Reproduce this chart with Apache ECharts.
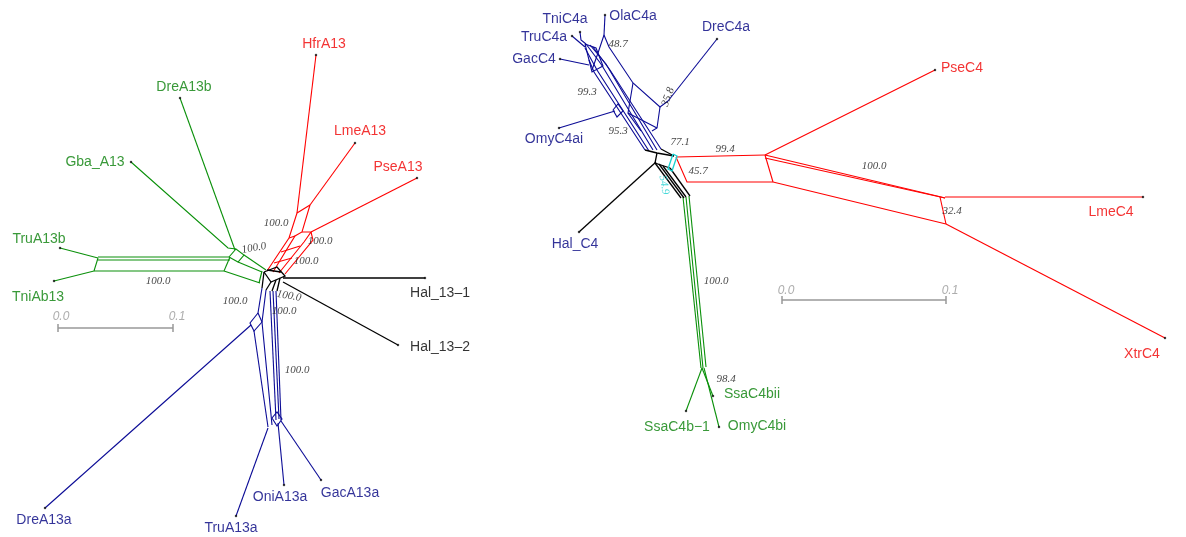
<!DOCTYPE html>
<html>
<head>
<meta charset="utf-8">
<script src="https://cdn.jsdelivr.net/npm/echarts@6/dist/echarts.min.js"></script>
<style>
  html, body { margin: 0; padding: 0; background: #fff; }
  #net { width: 1186px; height: 537px; }
</style>
</head>
<body>
<div id="net"></div>
<script>
// split network branches (x to the right, y downwards)
var leftGreen = [
    [[60, 248], [98, 258]],
    [[54, 281], [94, 271]],
    [[98, 258], [94, 271]],
    [[98, 257], [229, 257]],
    [[98, 260], [230, 260]],
    [[94, 271], [224, 271]],
    [[224, 271], [230, 257]],
    [[229, 257], [236, 249], [244, 255], [238, 262], [229, 257]],
    [[131, 162], [228, 248], [236, 249]],
    [[180, 98], [235, 250]],
    [[244, 255], [266, 270]],
    [[238, 262], [262, 272]],
    [[224, 271], [260, 283]],
    [[262, 271], [259, 283]]
];
var leftRed = [
    [[316, 55], [297, 213]],
    [[355, 143], [310, 205]],
    [[417, 178], [311, 232]],
    [[297, 213], [310, 205]],
    [[297, 213], [289, 238], [267, 271]],
    [[310, 205], [302, 232], [295, 236], [273, 272]],
    [[302, 232], [311, 232], [304, 242], [279, 273]],
    [[289, 238], [295, 236]],
    [[311, 232], [313, 240], [285, 274]],
    [[281, 252], [300, 246]],
    [[274, 263], [292, 258]]
];
var leftBlack = [
    [[264, 272], [277, 267], [285, 276], [271, 282], [264, 272]],
    [[267, 270], [281, 272]],
    [[271, 282], [266, 290]],
    [[276, 280], [272, 291]],
    [[280, 278], [277, 291]],
    [[264, 272], [262, 288]],
    [[283, 278], [425, 278]],
    [[283, 282], [398, 345]]
];
var leftBlue = [
    [[262, 288], [258, 313]],
    [[258, 313], [262, 322], [254, 331], [250, 323], [258, 313]],
    [[254, 331], [268, 427]],
    [[266, 290], [262, 322], [272, 425]],
    [[270, 291], [276, 420]],
    [[273, 291], [279, 419]],
    [[276, 291], [281, 420]],
    [[272, 418], [277, 412], [282, 419], [277, 426], [272, 418]],
    [[251, 325], [45, 508]],
    [[268, 428], [236, 516]],
    [[278, 423], [284, 485]],
    [[281, 421], [321, 480]]
];
var rightBlue = [
    [[605, 15], [604, 35]],
    [[604, 35], [598, 53], [592, 70]],
    [[604, 35], [609, 47], [633, 83], [660, 107], [668, 101]],
    [[668, 101], [717, 39]],
    [[633, 83], [628, 113], [641, 131]],
    [[660, 107], [657, 128], [652, 131]],
    [[628, 113], [657, 128]],
    [[580, 32], [581, 40], [586, 44]],
    [[572, 36], [585, 47]],
    [[560, 59], [589, 65]],
    [[585, 44], [596, 48], [603, 66], [592, 72], [585, 44]],
    [[586, 44], [601, 64], [653, 150]],
    [[590, 45], [606, 64], [657, 150]],
    [[585, 48], [597, 70], [649, 151]],
    [[589, 60], [594, 72], [645, 150]],
    [[593, 47], [610, 70], [661, 149]],
    [[613, 110], [618, 104], [623, 111], [617, 117], [613, 110]],
    [[559, 128], [615, 111]]
];
var rightBlack = [
    [[579, 232], [656, 162]],
    [[645, 150], [657, 153], [674, 156]],
    [[661, 149], [674, 156]],
    [[657, 153], [655, 163], [670, 168]],
    [[655, 163], [681, 198]],
    [[659, 164], [684, 198]],
    [[663, 166], [686, 197]],
    [[670, 168], [690, 196]]
];
var rightCyan = [
    [[673, 154], [677, 156], [672, 171], [668, 169], [673, 154]]
];
var rightRed = [
    [[676, 157], [765, 155]],
    [[676, 157], [687, 182], [773, 182]],
    [[765, 155], [773, 182]],
    [[765, 155], [935, 70]],
    [[765, 155], [937, 196]],
    [[765, 158], [945, 198]],
    [[937, 196], [945, 198]],
    [[773, 182], [946, 224]],
    [[940, 197], [946, 224]],
    [[945, 197], [1143, 197]],
    [[946, 224], [1165, 338]]
];
var rightGreen = [
    [[683, 197], [701, 368]],
    [[686, 197], [703, 368]],
    [[689, 196], [706, 367]],
    [[702, 368], [686, 411]],
    [[702, 368], [713, 396]],
    [[704, 368], [719, 427]]
];
var scaleBars = [
    [[58, 328], [173, 328]],
    [[782, 300], [946, 300]]
];
var scaleTicks = [
    [[58, 324], [58, 332]], [[173, 324], [173, 332]],
    [[782, 296], [782, 304]], [[946, 296], [946, 304]]
];
var scaleText = ['0.0', '0.1', '0.0', '0.1'];
var scaleTextPos = [[61, 317], [177, 317], [786, 291], [950, 291]];

// taxa
var taxa = ['HfrA13', 'LmeA13', 'PseA13', 'DreA13b', 'Gba_A13', 'TruA13b', 'TniAb13',
    'Hal_13\u20131', 'Hal_13\u20132', 'DreA13a', 'TruA13a', 'OniA13a', 'GacA13a',
    'TniC4a', 'OlaC4a', 'TruC4a', 'GacC4', 'OmyC4ai', 'Hal_C4', 'DreC4a', 'PseC4',
    'LmeC4', 'XtrC4', 'SsaC4bii', 'SsaC4b\u22121', 'OmyC4bi'];
var taxaGroup = ['r', 'r', 'r', 'g', 'g', 'g', 'g', 'k', 'k', 'b', 'b', 'b', 'b',
    'b', 'b', 'b', 'b', 'b', 'b', 'b', 'r', 'r', 'r', 'g', 'g', 'g'];
var taxaLabelPos = [[324, 44], [360, 131], [398, 167], [184, 87], [95, 162], [39, 239], [38, 297],
    [440, 293], [440, 347], [44, 520], [231, 528], [280, 497], [350, 493],
    [565, 19], [633, 16], [544, 37], [534, 59], [554, 139], [575, 244], [726, 27], [962, 68],
    [1111, 212], [1142, 354], [752, 394], [677, 427], [757, 426]];
var tips = [[316, 55], [355, 143], [417, 178], [180, 98], [131, 162], [60, 248], [54, 281],
    [425, 278], [398, 345], [45, 508], [236, 516], [284, 485], [321, 480],
    [580, 32], [605, 15], [572, 36], [560, 59], [559, 128], [579, 232], [717, 39], [935, 70],
    [1143, 197], [1165, 338], [713, 396], [686, 411], [719, 427]];

// bootstrap support values
var boot = ['100.0', '100.0', '100.0', '100.0', '100.0', '100.0', '100.0', '100.0', '100.0',
    '48.7', '99.3', '95.3', '35.8', '77.1', '99.4', '45.7', '54.9', '100.0', '32.4', '100.0', '98.4'];
var bootPos = [[158, 281], [254, 248], [276, 223], [320, 241], [306, 261], [235, 301], [289, 296],
    [284, 311], [297, 370],
    [618, 44], [587, 92], [618, 131], [668, 97], [680, 142], [725, 149], [698, 171], [664, 185],
    [874, 166], [952, 211], [716, 281], [726, 379]];
var bootRot = [0, 10, 0, 0, 0, 0, -10, 0, 0, 0, 0, 0, 70, 0, 0, 0, -80, 0, 0, 0, 0];
var bootCyan = [16];

var colors = { r: '#ff0000', g: '#0a900a', b: '#0c0c96', k: '#000000', c: '#1ad0d0' };
var textColors = { r: '#f00000', g: '#078007', b: '#000080', k: '#000000' };

function linesSeries(segs, color, width) {
    return {
        type: 'lines',
        coordinateSystem: 'cartesian2d',
        polyline: true,
        silent: true,
        lineStyle: { color: color, width: width, opacity: 1 },
        data: segs.map(function (c) { return { coords: c }; })
    };
}

function textSeries(names, pos, base, perItem) {
    return {
        type: 'scatter',
        silent: true,
        symbolSize: 0,
        itemStyle: { color: 'transparent' },
        label: Object.assign({
            show: true, position: 'inside', formatter: '{b}',
            textBorderWidth: 0, textBorderColor: 'transparent', textShadowBlur: 0
        }, base),
        data: names.map(function (t, i) {
            return { name: t, value: pos[i], label: perItem ? perItem(i) : {} };
        })
    };
}

var chart = echarts.init(document.getElementById('net'));
var option = {
    animation: false,
    grid: { left: 0, right: 0, top: 0, bottom: 0 },
    xAxis: { type: 'value', min: 0, max: 1186, show: false },
    yAxis: { type: 'value', min: 0, max: 537, inverse: true, show: false },
    series: [
        linesSeries(leftGreen, colors.g, 1.1),
        linesSeries(leftRed, colors.r, 1.1),
        linesSeries(leftBlue, colors.b, 1.1),
        linesSeries(leftBlack, colors.k, 1.3),
        linesSeries(rightBlue, colors.b, 1.1),
        linesSeries(rightRed, colors.r, 1.1),
        linesSeries(rightGreen, colors.g, 1.1),
        linesSeries(rightBlack, colors.k, 1.3),
        linesSeries(rightCyan, colors.c, 1.3),
        linesSeries(scaleBars, '#999999', 1.5),
        linesSeries(scaleTicks, '#999999', 1.5),
        {
            type: 'scatter',
            silent: true,
            symbolSize: 2.5,
            itemStyle: { color: '#111' },
            data: tips
        },
        textSeries(taxa, taxaLabelPos,
            { fontFamily: 'Liberation Sans', fontSize: 14 },
            function (i) { return { color: textColors[taxaGroup[i]] }; }),
        textSeries(boot, bootPos,
            { fontFamily: 'Liberation Serif', fontStyle: 'italic', fontSize: 11, color: '#111' },
            function (i) {
                var lab = { rotate: bootRot[i] };
                if (bootCyan.indexOf(i) >= 0) lab.color = colors.c;
                return lab;
            }),
        textSeries(scaleText, scaleTextPos,
            { fontFamily: 'Liberation Sans', fontStyle: 'italic', fontSize: 12, color: '#999' })
    ]
};
chart.setOption(option);
window.addEventListener('resize', function () { chart.resize(); });
</script>
</body>
</html>
